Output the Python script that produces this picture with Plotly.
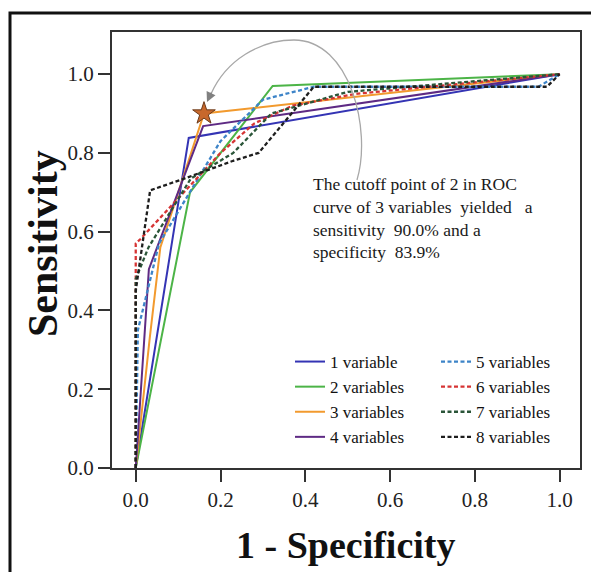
import numpy as np
import plotly.graph_objects as go

# ---- data ----
series_names = ["1 variable", "2 variables", "3 variables", "4 variables",
                "5 variables", "6 variables", "7 variables", "8 variables"]
fpr1 = [0, 0.125, 1]
tpr1 = [0, 0.838, 1]
fpr2 = [0, 0.128, 0.323, 1]
tpr2 = [0, 0.70, 0.970, 1]
fpr3 = [0, 0.033, 0.058, 0.161, 1]
tpr3 = [0, 0.33, 0.56, 0.900, 1]
fpr4 = [0, 0.031, 0.159, 1]
tpr4 = [0, 0.505, 0.868, 1]
fpr5 = [0, 0.005, 0.055, 0.20, 0.30, 0.42, 0.95, 1]
tpr5 = [0, 0.35, 0.57, 0.83, 0.935, 0.968, 0.968, 1]
fpr6 = [0, 0, 0.01, 0.20, 0.28, 0.37, 0.52, 1]
tpr6 = [0, 0.57, 0.58, 0.80, 0.875, 0.92, 0.95, 1]
fpr7 = [0, 0, 0.03, 0.13, 0.23, 0.32, 0.50, 1]
tpr7 = [0, 0.48, 0.56, 0.735, 0.80, 0.90, 0.955, 1]
fpr8 = [0, 0, 0.034, 0.11, 0.23, 0.29, 0.42, 0.97, 1]
tpr8 = [0, 0.45, 0.705, 0.733, 0.78, 0.80, 0.968, 0.968, 1]
cutoff_fpr = [0.161]
cutoff_tpr = [0.900]
tick_vals = [0.0, 0.2, 0.4, 0.6, 0.8, 1.0]
tick_text = ["0.0", "0.2", "0.4", "0.6", "0.8", "1.0"]

fprs = [fpr1, fpr2, fpr3, fpr4, fpr5, fpr6, fpr7, fpr8]
tprs = [tpr1, tpr2, tpr3, tpr4, tpr5, tpr6, tpr7, tpr8]
colors = ["#3434b4", "#4cb447", "#f29a2e", "#5e2a84",
          "#3d84c8", "#d63434", "#2a5538", "#1e1e1e"]
dashes = ["solid"] * 4 + ["4px,2.5px"] * 4
widths = [2] * 4 + [2.3] * 4

SERIF = "Liberation Serif, Times New Roman, serif"
W, H = 591, 572
L, R, T, B = 112, 580, 32, 468
xr = [-0.056, 1.048]
yr = [0, 1.107]

def px2data(px, py):
    x = xr[0] + (px - L) / (R - L) * (xr[1] - xr[0])
    y = yr[0] + (B - py) / (B - T) * (yr[1] - yr[0])
    return x, y

def px2paper(px, py):
    return (px - L) / (R - L), (B - py) / (B - T)

def P(px, py):
    x, y = px2data(px, py)
    return f"{x:.4f},{y:.4f}"

fig = go.Figure()
for i in range(8):
    fig.add_trace(go.Scatter(
        x=fprs[i], y=tprs[i], mode="lines", name=series_names[i],
        line=dict(color=colors[i], width=widths[i], dash=dashes[i]),
        legend="legend" if i < 4 else "legend2",
    ))

fig.add_trace(go.Scatter(
    x=cutoff_fpr, y=cutoff_tpr, mode="markers", showlegend=False,
    marker=dict(symbol="star", size=17, color="#c8682c",
                line=dict(color="#6b3a1a", width=1)),
))

# decorative curved arrow
arc = ("M " + P(357, 180) + " C " + P(372, 130) + " " + P(350, 40) + " " + P(294, 40)
       + " C " + P(260, 40) + " " + P(226, 60) + " " + P(211, 94))
fig.add_shape(type="path", path=arc, xref="x", yref="y",
              line=dict(color="#a8a8a8", width=1.3))

tipx, tipy = px2data(207, 102)
fig.add_annotation(x=tipx, y=tipy, xref="x", yref="y", ax=5, ay=-11,
                   axref="pixel", ayref="pixel", text="", showarrow=True,
                   arrowhead=2, arrowsize=1.5, arrowwidth=1.3, arrowcolor="#808080")

NB = "\u00a0"
tx, ty = px2data(311, 172)
fig.add_annotation(
    x=tx, y=ty, xref="x", yref="y", xanchor="left", yanchor="top",
    align="left", showarrow=False,
    text=("The cutoff point of 2 in ROC<br>"
          f"curve of 3 variables {NB}yielded {NB}{NB}a<br>"
          f"sensitivity {NB}90.0% and a<br>"
          f"specificity {NB}83.9%"),
    font=dict(family=SERIF, size=17.5, color="#1a1a1a"),
)

# axis titles
ax_, ay_ = px2paper(346, 545)
fig.add_annotation(x=ax_, y=ay_, xref="paper", yref="paper", xanchor="center", yanchor="middle",
                   showarrow=False, text="<b>1 - Specificity</b>",
                   font=dict(family=SERIF, size=38, color="#111"))
bx_, by_ = px2paper(43, 244)
fig.add_annotation(x=bx_, y=by_, xref="paper", yref="paper", xanchor="center", yanchor="middle",
                   showarrow=False, text="<b>Sensitivity</b>", textangle=-90,
                   font=dict(family=SERIF, size=42, color="#111"))

# outer frame
ox0, oy1 = px2paper(10, 13)
fig.add_shape(type="rect", xref="paper", yref="paper",
              x0=ox0, x1=1.2, y0=-0.5, y1=oy1,
              line=dict(color="#111", width=3))

axis_common = dict(
    showline=True, linecolor="#333", linewidth=2, mirror=True,
    ticks="outside", ticklen=12, tickwidth=2, tickcolor="#333",
    showgrid=False, zeroline=False, automargin=False,
    tickfont=dict(family=SERIF, size=21, color="#222"),
    tickvals=tick_vals, ticktext=tick_text,
)

lx1, ly = px2paper(290, 344)
lx2, _ = px2paper(436, 344)
legend_common = dict(y=ly, xanchor="left", yanchor="top", bgcolor="rgba(0,0,0,0)",
                     font=dict(family=SERIF, size=17, color="#111"), tracegroupgap=0)

fig.update_layout(
    width=W, height=H,
    margin=dict(l=L, r=W - R, t=T, b=H - B, autoexpand=False),
    paper_bgcolor="white", plot_bgcolor="white",
    xaxis=dict(range=xr, **axis_common),
    yaxis=dict(range=yr, **axis_common),
    legend=dict(x=lx1, **legend_common),
    legend2=dict(x=lx2, **legend_common),
)

fig.write_html("out.html", config={"displayModeBar": False},
               post_script="document.body.style.margin='0px';")
